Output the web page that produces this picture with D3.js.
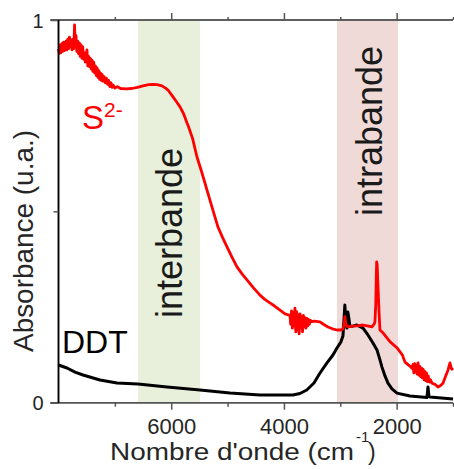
<!DOCTYPE html>
<html><head><meta charset="utf-8">
<script src="https://cdn.jsdelivr.net/npm/d3@7"></script>
<style>html,body{margin:0;padding:0;background:#fff;}svg{display:block;}</style>
</head><body>
<script>
// Wavenumber (cm-1) and absorbance (u.a.)
const s2Wavenumber = [8000,7985,7970,7955,7940,7925,7910,7895,7880,7865,7850,7835,7820,7805,7790,7775,7760,7745,7730,7715,7705,7690,7675,7660,7645,7630,7615,7600,7585,7570,7555,7540,7525,7510,7495,7480,7465,7450,7435,7420,7405,7390,7375,7360,7345,7330,7315,7300,7285,7270,7255,7240,7225,7210,7190,7170,7150,7130,7110,7090,7070,7050,7030,7000,6960,6900,6800,6700,6600,6500,6400,6320,6250,6164,6100,6057,5968,5900,5844,5780,5720,5702,5620,5543,5470,5401,5340,5276,5170,5090,5010,4920,4833,4740,4656,4540,4425,4340,4248,4160,4070,3980,3893,3880,3865,3850,3835,3820,3805,3790,3775,3760,3745,3730,3715,3700,3685,3670,3655,3640,3625,3610,3595,3580,3565,3550,3530,3502,3460,3400,3360,3300,3218,3140,3059,2990,2955,2930,2919,2900,2866,2800,2700,2597,2500,2438,2400,2385,2370,2360,2354,2345,2330,2310,2296,2239,2115,1990,1900,1852,1760,1728,1710,1695,1680,1665,1650,1635,1620,1605,1590,1575,1560,1545,1530,1515,1500,1485,1470,1455,1440,1420,1400,1373,1320,1267,1220,1178,1130,1089,1054,1030,1000];
const s2Absorbance = [0.925,0.912,0.935,0.915,0.938,0.918,0.942,0.920,0.930,0.945,0.922,0.950,0.925,0.955,0.930,0.948,0.922,0.950,0.925,0.987,0.930,0.960,0.918,0.945,0.912,0.940,0.905,0.935,0.900,0.930,0.898,0.915,0.890,0.905,0.922,0.880,0.905,0.878,0.900,0.872,0.895,0.866,0.890,0.862,0.880,0.855,0.875,0.850,0.868,0.845,0.862,0.842,0.858,0.840,0.852,0.836,0.848,0.832,0.842,0.826,0.836,0.824,0.830,0.822,0.826,0.821,0.820,0.821,0.824,0.828,0.831,0.832,0.831,0.828,0.822,0.817,0.799,0.785,0.773,0.755,0.731,0.725,0.690,0.642,0.608,0.574,0.543,0.511,0.459,0.432,0.407,0.380,0.355,0.336,0.321,0.300,0.281,0.270,0.261,0.252,0.242,0.232,0.228,0.205,0.240,0.195,0.235,0.200,0.247,0.185,0.238,0.190,0.230,0.180,0.232,0.195,0.225,0.185,0.228,0.198,0.222,0.195,0.220,0.200,0.218,0.205,0.215,0.212,0.213,0.212,0.211,0.205,0.198,0.193,0.190,0.190,0.192,0.205,0.225,0.205,0.198,0.200,0.201,0.203,0.200,0.198,0.205,0.211,0.260,0.340,0.368,0.360,0.300,0.230,0.190,0.182,0.159,0.143,0.125,0.106,0.095,0.090,0.100,0.078,0.102,0.080,0.098,0.075,0.104,0.072,0.095,0.068,0.090,0.065,0.088,0.060,0.082,0.058,0.078,0.055,0.070,0.054,0.060,0.051,0.048,0.041,0.045,0.051,0.070,0.085,0.104,0.090,0.085];

const ddtWavenumber = [8000,7849,7707,7565,7264,6962,6589,6075,5489,4957,4425,3840,3716,3595,3467,3360,3236,3130,3059,2988,2953,2935,2919,2901,2883,2866,2848,2830,2777,2706,2597,2509,2420,2349,2296,2260,2207,2154,2083,1994,1763,1462,1444,1426,1409,1000];
const ddtAbsorbance = [0.0985,0.0907,0.080,0.0723,0.0593,0.0515,0.0489,0.0410,0.0332,0.0253,0.0201,0.0201,0.024,0.0332,0.0515,0.0776,0.104,0.1246,0.143,0.159,0.174,0.216,0.255,0.211,0.195,0.237,0.221,0.200,0.200,0.203,0.195,0.177,0.156,0.138,0.112,0.093,0.070,0.051,0.036,0.025,0.0175,0.0136,0.041,0.016,0.015,0.0097];

const bandNames = ["interbande", "intrabande"];
const bandStart = [6590, 3058];
const bandEnd = [5490, 1975];
const bandColors = ["#e8f0dc", "#f0dad8"];

const xMajorTicks = [6000, 4000, 2000];
const xMinorTicks = [7000, 5000, 3000, 1000];
const yMajorTicks = [0, 1];
const yMinorTicks = [0.5];

const W = 454, H = 469;
const svg = d3.select("body").append("svg").attr("width", W).attr("height", H);
const x = d3.scaleLinear().domain([8000, 1000]).range([58.5, 453]);
const y = d3.scaleLinear().domain([0, 1]).range([402.7, 20]);
const font = "'Liberation Sans', Arial, sans-serif";

// bands
svg.selectAll("rect.band").data(bandNames).join("rect")
  .attr("class", "band")
  .attr("x", (d, i) => x(bandStart[i]))
  .attr("width", (d, i) => x(bandEnd[i]) - x(bandStart[i]))
  .attr("y", y(1)).attr("height", y(0) - y(1))
  .attr("fill", (d, i) => bandColors[i]);

// band labels (rotated)
const bandLabelCenterY = [233, 131];
const bandLabelBaseX = [182, 382];
svg.selectAll("text.bandlbl").data(bandNames).join("text")
  .attr("class", "bandlbl")
  .attr("transform", (d, i) => `translate(${bandLabelBaseX[i]},${bandLabelCenterY[i]}) rotate(-90)`)
  .attr("text-anchor", "middle")
  .attr("font-family", font).attr("font-size", 36)
  .attr("textLength", 170).attr("lengthAdjust", "spacingAndGlyphs")
  .attr("fill", "#1a1a1a")
  .text(d => d);

// curves
const line = d3.line().x(d => x(d[0])).y(d => y(d[1]));
const ddt = ddtWavenumber.map((w, i) => [w, ddtAbsorbance[i]]);
const s2 = s2Wavenumber.map((w, i) => [w, s2Absorbance[i]]);
svg.append("path").datum(ddt).attr("d", line)
  .attr("fill", "none").attr("stroke", "#000").attr("stroke-width", 3).attr("stroke-linejoin", "round");
svg.append("path").datum(s2).attr("d", line)
  .attr("fill", "none").attr("stroke", "#ff0000").attr("stroke-width", 2.8).attr("stroke-linejoin", "round");

// axes
const axColor = "#555";
const gBot = svg.append("g").attr("transform", `translate(0,${y(0)})`);
gBot.call(d3.axisBottom(x).tickValues(xMajorTicks).tickSize(7).tickFormat(d3.format("d")));
const gBotMin = svg.append("g").attr("transform", `translate(0,${y(0)})`);
gBotMin.call(d3.axisBottom(x).tickValues(xMinorTicks).tickSize(4).tickFormat(""));
const gTop = svg.append("g").attr("transform", `translate(0,${y(1)})`);
gTop.call(d3.axisTop(x).tickValues(xMajorTicks).tickSize(7).tickFormat(""));
const gTopMin = svg.append("g").attr("transform", `translate(0,${y(1)})`);
gTopMin.call(d3.axisTop(x).tickValues(xMinorTicks).tickSize(3).tickFormat(""));
[gBot, gBotMin, gTop, gTopMin].forEach(g => {
  g.select(".domain").attr("stroke", axColor).attr("stroke-width", 1.5).attr("d", "M50.5,0H453");
  g.selectAll(".tick line").attr("stroke", axColor).attr("stroke-width", 1.5);
});
gBot.selectAll(".tick text").attr("font-family", font).attr("font-size", 22).attr("fill", "#262626").attr("dy", "0.95em").attr("y", 10);

const gLeft = svg.append("g").attr("transform", `translate(${x(8000)},0)`);
gLeft.call(d3.axisLeft(y).tickValues(yMajorTicks).tickSize(8).tickFormat(d3.format("d")));
const gLeftMin = svg.append("g").attr("transform", `translate(${x(8000)},0)`);
gLeftMin.call(d3.axisLeft(y).tickValues(yMinorTicks).tickSize(5).tickFormat(""));
[gLeft, gLeftMin].forEach(g => {
  g.select(".domain").attr("stroke", "#000").attr("stroke-width", 1.5).attr("d", `M0,${y(1)}V${y(0)}`);
  g.selectAll(".tick line").attr("stroke", axColor).attr("stroke-width", 1.5);
});
gLeft.selectAll(".tick text").attr("font-family", font).attr("font-size", 20).attr("fill", "#262626").attr("x", -15).attr("dy", "0.36em");

// series labels
const s2Label = svg.append("text").attr("x", 82).attr("y", 129)
  .attr("font-family", font).attr("font-size", 33).attr("fill", "#ff0000");
s2Label.append("tspan").text("S");
s2Label.append("tspan").attr("font-size", 21).attr("dy", -12).text("2-");
svg.append("text").attr("x", 62).attr("y", 353)
  .attr("font-family", font).attr("font-size", 32).attr("fill", "#000").text("DDT");

// axis titles
const xl = svg.append("text").attr("font-family", font).attr("fill", "#262626");
xl.append("tspan").attr("x", 110).attr("y", 460).attr("font-size", 23)
  .attr("textLength", 244).attr("lengthAdjust", "spacingAndGlyphs").text("Nombre d'onde (cm");
xl.append("tspan").attr("x", 356).attr("y", 442).attr("font-size", 15).text("-1");
xl.append("tspan").attr("x", 368).attr("y", 460).attr("font-size", 23).text(")");

svg.append("text")
  .attr("transform", "translate(33,241) rotate(-90)")
  .attr("text-anchor", "middle")
  .attr("font-family", font).attr("font-size", 28).attr("fill", "#262626")
  .attr("textLength", 222).attr("lengthAdjust", "spacingAndGlyphs")
  .text("Absorbance (u.a.)");
</script>
</body></html>
